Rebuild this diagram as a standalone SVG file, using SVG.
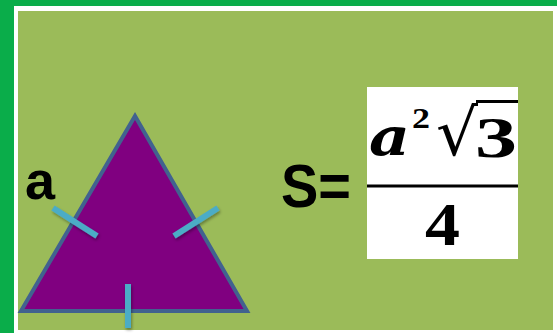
<svg xmlns="http://www.w3.org/2000/svg" width="557" height="333" viewBox="0 0 557 333">
<defs>
<filter id="sh" filterUnits="userSpaceOnUse" x="0" y="0" width="557" height="333">
<feDropShadow dx="1" dy="2" stdDeviation="1.5" flood-color="#000" flood-opacity="0.35"/>
</filter>
</defs>
<style>
.tick{stroke:#4bacc6;stroke-width:6;fill:none;filter:url(#sh)}
.lbl{font-family:"Liberation Sans",Arial,sans-serif;font-weight:bold;fill:#000}
.math{font-family:"Liberation Serif","Times New Roman",serif;font-weight:bold;fill:#000}
</style>
<rect x="0" y="0" width="557" height="333" fill="#0aad4a"/>
<rect x="14" y="6" width="543" height="327" fill="#ffffff"/>
<rect x="18" y="11" width="535" height="319" fill="#9bbb59"/>
<g id="triangle">
<polygon points="135,116 21,311 247,311" fill="#800080" stroke="#41628f" stroke-width="4" stroke-linejoin="miter"/>
<line class="tick" x1="53" y1="208" x2="97" y2="236"/>
<line class="tick" x1="174" y1="236" x2="218" y2="208"/>
<line class="tick" x1="128" y1="284" x2="128" y2="328"/>
</g>
<g id="label-a">
<text class="lbl" x="25" y="199" font-size="54">a</text>
</g>
<g id="label-S">
<text class="lbl" x="281" y="207" font-size="61" textLength="70" lengthAdjust="spacingAndGlyphs">S=</text>
</g>
<g id="formula">
<rect x="367" y="87" width="151" height="172" fill="#ffffff"/>
<text x="369" y="155" font-family="'DejaVu Serif',serif" font-weight="bold" font-style="italic" font-size="52" textLength="41" lengthAdjust="spacingAndGlyphs">a</text>
<text class="math" x="412" y="128" font-size="30" textLength="18" lengthAdjust="spacingAndGlyphs">2</text>
<text x="436" y="155" font-family="'DejaVu Serif',serif" font-size="64" textLength="42" lengthAdjust="spacingAndGlyphs">√</text>
<line x1="476" y1="101.5" x2="518" y2="101.5" stroke="#000" stroke-width="3"/>
<text class="math" x="475" y="157" font-size="56" textLength="42" lengthAdjust="spacingAndGlyphs">3</text>
<line x1="367" y1="186" x2="518" y2="186" stroke="#000" stroke-width="3"/>
<text class="math" x="425" y="245" font-size="62" textLength="35" lengthAdjust="spacingAndGlyphs">4</text>
</g>
</svg>
